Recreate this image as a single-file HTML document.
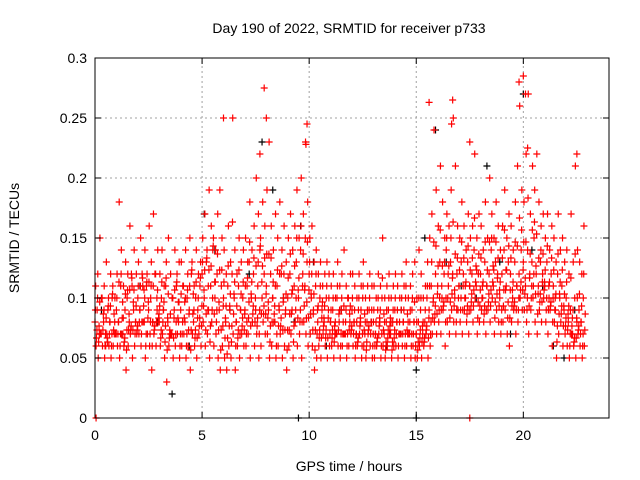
<!DOCTYPE html>
<html><head><meta charset="utf-8"><style>
html,body{margin:0;padding:0;background:#fff;}
svg{display:block;font-family:"Liberation Sans",sans-serif;}
</style></head><body>
<svg id="chart" width="640" height="480" viewBox="0 0 640 480" xmlns="http://www.w3.org/2000/svg">
<rect width="640" height="480" fill="#fff"/>
<g id="grid"></g>
<g id="marks"></g>
<rect x="95" y="58" width="514" height="360" fill="none" stroke="#000" stroke-width="1"/>
<g id="ticks"></g>
<text x="349" y="33" text-anchor="middle" font-size="14">Day 190 of 2022, SRMTID for receiver p733</text>
<text x="349" y="471" text-anchor="middle" font-size="14">GPS time / hours</text>
<text x="19" y="238" text-anchor="middle" font-size="14" transform="rotate(-90 19 238)">SRMTID / TECUs</text>
</svg>
<script>
const xTicks=[0,5,10,15,20];
const yTicks=[0,0.05,0.1,0.15,0.2,0.25,0.3];
const yTickLabels=["0","0.05","0.1","0.15","0.2","0.25","0.3"];
const loVals=[.06,.05,.07,.06,.05,.07,.06,.05,.06,.07,.06,.05,.07,.06,.04,.06,.07,.05,.06,.07,.07,.06,.08,.05,.07,.06,.04,.07,.06,.08,.06,.07,.05,.03,.06,.07,.05,.06,.07,.05,.06,.07,.05,.06,.04,.07,.06,.05,.07,.06,.08,.06,.07,.05,.08,.06,.07,.05,.04,.06,.05,.04,.06,.05,.07,.04,.06,.05,.07,.06,.06,.07,.05,.08,.06,.07,.05,.06,.08,.07,.07,.05,.06,.08,.05,.06,.07,.05,.06,.04,.06,.07,.05,.08,.06,.07,.05,.08,.07,.06,.07,.06,.04,.05,.06,.05,.07,.06,.05,.06,.06,.05,.07,.06,.05,.06,.07,.05,.06,.07,.06,.05,.06,.07,.05,.06,.05,.07,.06,.05,.05,.06,.07,.05,.06,.05,.06,.07,.05,.06,.06,.05,.07,.06,.05,.06,.07,.05,.06,.05,.05,.06,.05,.06,.07,.05,.06,.07,.08,.07,.08,.07,.09,.06,.08,.07,.09,.08,.07,.09,.08,.07,.09,.08,.07,.09,.08,.10,.07,.08,.09,.08,.07,.09,.08,.10,.07,.09,.08,.07,.08,.09,.07,.06,.08,.09,.07,.08,.10,.09,.09,.08,.07,.09,.10,.08,.07,.09,.08,.10,.08,.07,.09,.06,.08,.05,.07,.08,.06,.07,.06,.05,.07,.06,.05,.07,.06,.05,.06];
const midVals=[.08,.09,.07,.10,.08,.06,.09,.08,.10,.07,.09,.08,.11,.07,.09,.10,.08,.12,.09,.08,.10,.09,.12,.08,.11,.09,.10,.08,.12,.09,.08,.10,.09,.11,.08,.07,.10,.09,.11,.08,.09,.11,.08,.10,.09,.12,.08,.10,.09,.11,.12,.10,.13,.09,.11,.14,.10,.12,.09,.11,.10,.08,.11,.09,.12,.10,.08,.11,.09,.10,.09,.11,.13,.10,.12,.09,.11,.14,.10,.12,.11,.09,.12,.10,.08,.11,.09,.12,.10,.09,.10,.12,.09,.11,.13,.10,.14,.12,.11,.13,.12,.10,.09,.11,.08,.10,.09,.08,.10,.09,.08,.09,.07,.10,.08,.09,.07,.08,.10,.08,.09,.08,.07,.09,.08,.10,.07,.08,.09,.08,.08,.07,.09,.08,.10,.07,.08,.09,.07,.08,.09,.08,.07,.09,.08,.10,.07,.08,.09,.08,.07,.08,.09,.07,.08,.10,.09,.11,.10,.12,.11,.13,.10,.12,.14,.11,.13,.12,.10,.12,.11,.13,.12,.10,.13,.11,.12,.14,.11,.12,.12,.10,.13,.11,.12,.14,.11,.13,.12,.10,.12,.14,.11,.13,.12,.10,.13,.11,.12,.14,.13,.11,.14,.12,.13,.15,.12,.11,.13,.12,.11,.13,.10,.12,.11,.09,.12,.10,.11,.09,.10,.08,.09,.07,.10,.08,.09,.08,.10];
const hiVals=[.11,.12,.15,.10,.11,.13,.10,.12,.11,.10,.12,.18,.14,.11,.13,.12,.16,.11,.14,.12,.13,.15,.11,.14,.12,.16,.13,.17,.12,.14,.12,.14,.11,.13,.15,.12,.10,.14,.12,.13,.13,.11,.14,.12,.15,.13,.11,.14,.12,.13,.15,.17,.14,.19,.16,.15,.14,.17,.19,.15,.14,.12,.16,.13,.25,.14,.12,.15,.13,.14,.15,.13,.18,.14,.16,.20,.17,.15,.18,.16,.19,.23,.16,.14,.17,.15,.18,.14,.16,.13,.15,.17,.14,.16,.19,.15,.20,.17,.23,.18,.15,.16,.13,.14,.12,.13,.11,.12,.13,.12,.11,.12,.10,.13,.11,.12,.14,.11,.10,.12,.12,.11,.10,.12,.11,.13,.10,.11,.12,.11,.11,.10,.12,.11,.15,.10,.11,.12,.10,.11,.12,.11,.10,.12,.11,.13,.10,.11,.12,.13,.10,.14,.12,.10,.11,.13,.15,.17,.24,.19,.16,.21,.18,.15,.17,.16,.19,.25,.21,.16,.15,.18,.16,.14,.17,.15,.16,.22,.15,.17,.16,.14,.18,.15,.20,.17,.15,.18,.16,.14,.16,.19,.15,.17,.16,.14,.18,.21,.26,.19,.18,.22,.27,.17,.21,.19,.22,.18,.16,.17,.15,.17,.14,.16,.15,.13,.17,.14,.15,.13,.14,.12,.17,.13,.21,.14,.13,.12,.16];
const outlierTimes=[7.9,8.0,9.9,9.85,15.6,16.7,16.65,19.8,20.0,20.1,20.2,22.5,6.0,7.7,17.5,0.05,17.5];
const outlierVals=[.275,.25,.245,.228,.263,.265,.245,.28,.285,.27,.225,.22,.25,.22,.23,0,0];
const blackTimes=[0.3,1.2,2.1,2.9,3.6,4.4,5.1,5.6,6.3,7.2,7.8,8.3,8.8,9.3,9.6,10.2,10.8,11.5,12.2,12.9,13.6,14.3,15.0,15.4,15.9,16.4,17.1,17.8,18.3,18.9,19.4,20.0,20.4,20.9,21.4,21.9,22.4,9.5,15.0];
const blackVals=[.09,.07,.11,.08,.02,.06,.17,.14,.09,.12,.23,.19,.10,.08,.16,.13,.06,.09,.07,.08,.06,.09,.04,.15,.24,.13,.11,.10,.21,.13,.07,.27,.14,.11,.06,.05,.09,0,0];
const t0=0,X0=95,X1=609,Y0=418,Y1=58;
function xs(t){return X0+(t-t0)/24*(X1-X0);}
function ys(v){return Y0-v/0.3*(Y0-Y1);}
const NS="http://www.w3.org/2000/svg";
const grid=document.getElementById('grid'),ticks=document.getElementById('ticks'),marks=document.getElementById('marks');
function ln(p,x1,y1,x2,y2,st,da){const l=document.createElementNS(NS,'line');l.setAttribute('x1',x1);l.setAttribute('y1',y1);l.setAttribute('x2',x2);l.setAttribute('y2',y2);l.setAttribute('stroke',st);if(da)l.setAttribute('stroke-dasharray',da);p.appendChild(l);return l;}
function tx(p,x,y,s,a){const t=document.createElementNS(NS,'text');t.setAttribute('x',x);t.setAttribute('y',y);t.setAttribute('text-anchor',a);t.setAttribute('font-size','14');t.textContent=s;p.appendChild(t);return t;}
xTicks.forEach(v=>{const x=xs(v);
if(v>0){const g=ln(grid,x,Y0,x,Y1,'#a0a0a0','2,3');}
ln(ticks,x,Y0,x,Y0-6,'#000');ln(ticks,x,Y1,x,Y1+6,'#000');
const t=tx(ticks,x,Y0+22,String(v),'middle');});
yTicks.forEach((v,i)=>{const y=ys(v);
if(v>0&&v<0.3){const g=ln(grid,X0,y,X1,y,'#a0a0a0','2,3');}
ln(ticks,X0,y,X0+6,y,'#000');ln(ticks,X1,y,X1-6,y,'#000');
const t=tx(ticks,X0-8,y+5,yTickLabels[i],'end');});
function plus(t,v,c){const x=xs(t),y=ys(v);const p=document.createElementNS(NS,'path');p.setAttribute('d',`M${x-3.5},${y}H${x+3.5}M${x},${y-3.5}V${y+3.5}`);p.setAttribute('stroke',c);p.setAttribute('stroke-width','1.2');


marks.appendChild(p);}
blackTimes.forEach((t,i)=>plus(t,blackVals[i],'#000'));
midVals.forEach((v,i)=>{const t=i*0.1;const lo=loVals[i],hi=hiVals[i];
plus(t,v,'#f00');plus(t+0.05,lo,'#f00');plus(t+0.03,hi,'#f00');
plus(t+0.07,(2*lo+v)/3,'#f00');plus(t+0.02,(2*v+hi)/3,'#f00');plus(t+0.09,(lo+2*v)/3,'#f00');});
outlierTimes.forEach((t,i)=>plus(t,outlierVals[i],'#f00'));
</script>
</body></html>
